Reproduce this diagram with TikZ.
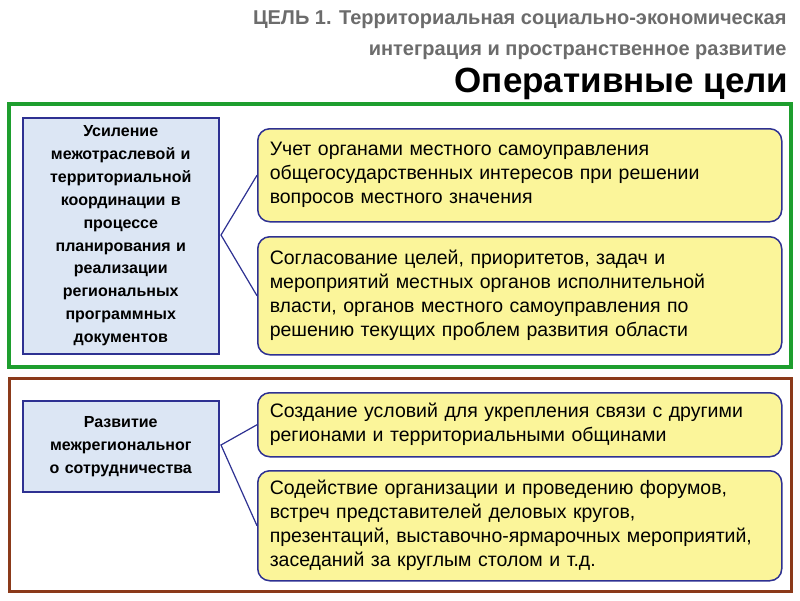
\documentclass[tikz,border=0pt]{standalone}
\usepackage{fontspec}
\setmainfont{Liberation Sans}
\definecolor{yel}{HTML}{FBF59A}
\definecolor{ybord}{HTML}{2E3192}
\definecolor{lblue}{HTML}{DCE6F4}
\definecolor{gframe}{HTML}{1E9E2E}
\definecolor{bframe}{HTML}{8B3A1A}
\begin{document}
\begin{tikzpicture}[x=1pt,y=-1pt,
 ybox/.style={draw=ybord,fill=yel,rounded corners=12pt,line width=1.5pt,anchor=north west,text width=#1,align=left,inner xsep=12pt,inner ysep=8pt,font=\fontsize{19.5}{24}\selectfont},
 lbox/.style={draw=ybord,fill=lblue,line width=1.5pt,anchor=north west,align=center,inner sep=2pt,font=\bfseries\fontsize{16}{22.9}\selectfont},
 con/.style={draw=ybord,line width=1.2pt}]
\useasboundingbox (0,0) rectangle (800,600);
\fill[white] (0,0) rectangle (800,600);
\node[anchor=east,text=gray!85!black,font=\bfseries\fontsize{20}{24}\selectfont] (t1) at (790,20) {ЦЕЛЬ 1. Территориальная социально-экономическая};
\node[anchor=east,text=gray!85!black,font=\bfseries\fontsize{20}{24}\selectfont] (t2) at (790,52) {интеграция и пространственное развитие};
\node[anchor=east,font=\bfseries\fontsize{35}{38}\selectfont] (t3) at (792,84) {Оперативные цели};
\draw[gframe,line width=3.5pt] (9,104) rectangle (791,367);
\draw[bframe,line width=3pt] (9,378) rectangle (791,591);
\node[lbox,minimum width=196pt,minimum height=236pt,text width=190pt] (l1) at (22,117) {Усиление\\межотраслевой и\\территориальной\\координации в\\процессе\\планирования и\\реализации\\региональных\\программных\\документов};
\node[lbox,minimum width=196pt,minimum height=91pt,text width=190pt] (l2) at (22,400) {Развитие\\межрегиональног\\о сотрудничества};
\node[ybox=500pt,minimum width=521pt,minimum height=93pt] (y1) at (257,128) {Учет органами местного самоуправления\\общегосударственных интересов при решении\\вопросов местного значения};
\node[ybox=500pt,minimum width=521pt,minimum height=118pt] (y2) at (257,236) {Согласование целей, приоритетов, задач и\\мероприятий местных органов исполнительной\\власти, органов местного самоуправления по\\решению текущих проблем развития области};
\node[ybox=500pt,minimum width=521pt,minimum height=64pt] (y3) at (257,392) {Создание условий для укрепления связи с другими\\регионами и территориальными общинами};
\node[ybox=500pt,minimum width=521pt,minimum height=110pt] (y4) at (257,470) {Содействие организации и проведению форумов,\\встреч представителей деловых кругов,\\презентаций, выставочно-ярмарочных мероприятий,\\заседаний за круглым столом и т.д.};
\coordinate (c1) at (221,235);
\coordinate (c2) at (221,445);
\draw[con] (y1.west) -- (c1) -- (y2.west);
\draw[con] (y3.west) -- (c2) -- (y4.west);
\end{tikzpicture}
\end{document}
